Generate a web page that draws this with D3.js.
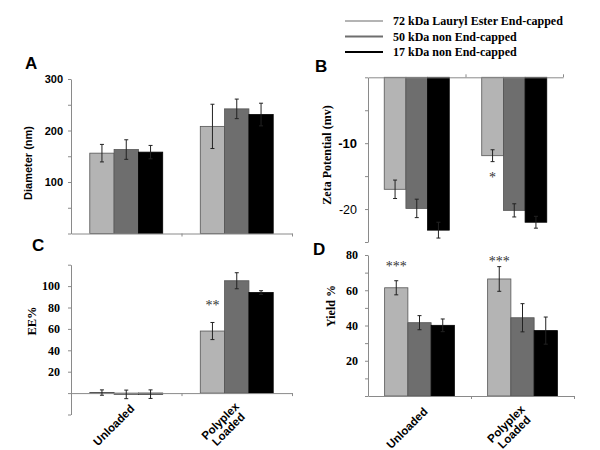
<!DOCTYPE html>
<html>
<head>
<meta charset="utf-8">
<script src="https://cdn.jsdelivr.net/npm/d3@7"></script>
<style>
  html, body { margin: 0; padding: 0; background: #fff; }
  svg { display: block; }
</style>
</head>
<body>
<svg id="chart" width="600" height="450"></svg>
<script>
// ---------- data ----------
const categories = ["Unloaded", "Polyplex Loaded"];
const categoryLines = [["Unloaded"], ["Polyplex", "Loaded"]];
const seriesNames = ["72 kDa Lauryl Ester End-capped", "50 kDa non End-capped", "17 kDa non End-capped"];
const seriesColors = ["#b4b4b4", "#6e6e6e", "#000000"];

// per series: [Unloaded, Polyplex Loaded]
const diameterMean = [[156, 208], [163, 242], [158, 231]];
const diameterErr  = [[17, 43], [19, 19], [13, 22]];
const zetaMean = [[-17.0, -11.9], [-19.9, -20.2], [-23.2, -22.0]];
const zetaErr  = [[1.4, 0.9], [1.4, 1.0], [1.2, 0.9]];
const eeMean = [[0.5, 58], [-1.2, 105], [-1.0, 94]];
const eeErr  = [[2.5, 8], [4, 7.5], [4, 1.7]];
const yieldMean = [[61.4, 66.4], [41.6, 44.4], [40.1, 37.1]];
const yieldErr  = [[4, 7], [4, 8], [3.6, 7.7]];

const diameterTicks = [0, 50, 100, 150, 200, 250, 300];
const diameterTickLabels = [100, 200, 300];
const zetaTicks = [0, -5, -10, -15, -20, -25];
const zetaTickLabels = [-10, -20];
const eeTicks = [-20, 0, 20, 40, 60, 80, 100, 120];
const eeTickLabels = [20, 40, 60, 80, 100];
const yieldTicks = [0, 10, 20, 30, 40, 50, 60, 70, 80];
const yieldTickLabels = [20, 40, 60, 80];

// significance marks
const sigText = ["*", "**", "***", "***"];
const sigPanel = ["B", "C", "D", "D"];
const sigCategory = [1, 1, 0, 1];
const sigSeries = [0, 0, 0, 0];
const sigAt = [-14.8, 84, 75, 77.5];

// ---------- drawing ----------
const SANS = "'Liberation Sans', Arial, sans-serif";
const SERIF = "'Liberation Serif', 'Times New Roman', serif";
const AXIS = "#8a8a8a";
const svg = d3.select("#chart");

const panels = {
  A: { mean: diameterMean, err: diameterErr, domain: [0, 300], yRange: [233.5, 79], xRange: [71, 292], frac: 0.66,
       ticks: diameterTicks, labels: diameterTickLabels, tickFont: SANS, tickSize: 11, tickWeight: "bold", pad: 5,
       title: "Diameter (nm)", titleFont: SANS, titleSize: 11, titlePos: [27.5, 163],
       letter: "A", letterPos: [25, 69], top: false, catLabels: false },
  B: { mean: zetaMean, err: zetaErr, domain: [-25, 0], yRange: [242, 77.3], xRange: [368, 563], frac: 0.667,
       ticks: zetaTicks, labels: zetaTickLabels, tickFont: SANS, tickSize: 13, tickWeight: "bold", pad: 8,
       title: "Zeta Potential (mv)", titleFont: SERIF, titleSize: 12, titlePos: [327, 155],
       letter: "B", letterPos: [315, 72], top: true, catLabels: false },
  C: { mean: eeMean, err: eeErr, domain: [-20, 120], yRange: [414.5, 264.7], xRange: [71, 292], frac: 0.66,
       ticks: eeTicks, labels: eeTickLabels, tickFont: SERIF, tickSize: 12, tickWeight: "bold", pad: 8,
       title: "EE%", titleFont: SERIF, titleSize: 12.5, titlePos: [31.5, 321],
       letter: "C", letterPos: [32, 251], top: false, catLabels: true },
  D: { mean: yieldMean, err: yieldErr, domain: [0, 80], yRange: [396, 255], xRange: [368, 574], frac: 0.677,
       ticks: yieldTicks, labels: yieldTickLabels, tickFont: SERIF, tickSize: 12, tickWeight: "bold", pad: 7,
       title: "Yield %", titleFont: SERIF, titleSize: 12, titlePos: [331, 306],
       letter: "D", letterPos: [313, 255], top: false, catLabels: true }
};

function drawPanel(key) {
  const p = panels[key];
  const g = svg.append("g");
  const y = d3.scaleLinear().domain(p.domain).range(p.yRange);
  const x0 = d3.scaleBand().domain(categories).range(p.xRange).paddingInner(0).paddingOuter(0);
  const gw = x0.bandwidth() * p.frac;
  const x1 = d3.scaleBand().domain(d3.range(seriesNames.length)).range([0, gw]);
  const zeroY = y(0);

  // bars
  seriesNames.forEach((s, si) => {
    categories.forEach((c, ci) => {
      const v = p.mean[si][ci];
      const bx = x0(c) + (x0.bandwidth() - gw) / 2 + x1(si);
      g.append("rect")
        .attr("x", bx).attr("width", x1.bandwidth())
        .attr("y", Math.min(y(v), zeroY)).attr("height", Math.abs(y(v) - zeroY))
        .attr("fill", seriesColors[si])
        .attr("stroke", si === 2 ? "#000" : "#555").attr("stroke-width", 0.8);
    });
  });

  // axes
  const yAxis = d3.axisLeft(y).tickValues(p.ticks).tickSize(3).tickSizeOuter(0).tickPadding(p.pad)
    .tickFormat(d => p.labels.includes(d) ? String(d) : "");
  const ya = g.append("g").attr("transform", `translate(${p.xRange[0]},0)`).call(yAxis);
  ya.selectAll("text").attr("font-family", p.tickFont).attr("font-size", p.tickSize)
    .attr("font-weight", p.tickWeight).attr("fill", "#000");
  if (key === "B") {
    ya.selectAll(".tick text").filter(d => d === -20).attr("font-weight", "normal").attr("font-size", 12.5);
  }

  const xl = d3.scaleLinear().domain([0, categories.length]).range(p.xRange);
  const xAxis = (p.top ? d3.axisTop(xl) : d3.axisBottom(xl))
    .tickValues(d3.range(1, categories.length + 1)).tickSize(3).tickSizeOuter(0).tickFormat("");
  g.append("g").attr("transform", `translate(0,${zeroY})`).call(xAxis);

  g.selectAll(".domain, .tick line").attr("stroke", AXIS).attr("stroke-width", 1);

  // error bars (drawn on top)
  seriesNames.forEach((s, si) => {
    categories.forEach((c, ci) => {
      const v = p.mean[si][ci], e = p.err[si][ci];
      const cx = x0(c) + (x0.bandwidth() - gw) / 2 + x1(si) + x1.bandwidth() / 2;
      const eb = g.append("g").attr("stroke", "#222").attr("stroke-width", 1);
      eb.append("line").attr("x1", cx).attr("x2", cx).attr("y1", y(v + e)).attr("y2", y(v - e));
      eb.append("line").attr("x1", cx - 2).attr("x2", cx + 2).attr("y1", y(v + e)).attr("y2", y(v + e));
      eb.append("line").attr("x1", cx - 2).attr("x2", cx + 2).attr("y1", y(v - e)).attr("y2", y(v - e));
    });
  });

  // significance marks
  sigText.forEach((t, i) => {
    if (sigPanel[i] !== key) return;
    const c = categories[sigCategory[i]];
    const cx = x0(c) + (x0.bandwidth() - gw) / 2 + x1(sigSeries[i]) + x1.bandwidth() / 2;
    g.append("text").attr("x", cx).attr("y", y(sigAt[i]) + 7)
      .attr("text-anchor", "middle").attr("font-family", SERIF).attr("font-size", 14)
      .attr("fill", "#333").text(t);
  });

  // category labels
  if (p.catLabels) {
    categories.forEach((c, ci) => {
      const cx = x0(c) + x0.bandwidth() / 2;
      const lines = categoryLines[ci];
      const t = g.append("text")
        .attr("transform", `translate(${cx - 12.5},${zeroY + 32}) rotate(-45)`)
        .attr("text-anchor", "middle").attr("dominant-baseline", "central")
        .attr("font-family", SANS).attr("font-size", 11.5)
        .attr("font-weight", "bold").attr("fill", "#000");
      lines.forEach((ln, li) => {
        t.append("tspan").attr("x", 0).attr("y", (li - (lines.length - 1) / 2) * 11.5)
          .attr("dominant-baseline", "central").text(ln);
      });
    });
  }

  // axis title
  g.append("text")
    .attr("transform", `translate(${p.titlePos[0]},${p.titlePos[1]}) rotate(-90)`)
    .attr("text-anchor", "middle").attr("dominant-baseline", "central")
    .attr("font-family", p.titleFont).attr("font-size", p.titleSize).attr("font-weight", "bold")
    .attr("fill", "#000").text(p.title);

  // panel letter
  g.append("text").attr("x", p.letterPos[0]).attr("y", p.letterPos[1])
    .attr("font-family", SANS).attr("font-size", 17).attr("font-weight", "bold")
    .attr("fill", "#000").text(p.letter);
}

["A", "B", "C", "D"].forEach(drawPanel);

// legend
const legendY = d3.scalePoint().domain(seriesNames).range([21, 52]);
const lg = svg.append("g");
seriesNames.forEach((s, i) => {
  lg.append("line").attr("x1", 345).attr("x2", 383).attr("y1", legendY(s)).attr("y2", legendY(s))
    .attr("stroke", seriesColors[i]).attr("stroke-width", 2);
  lg.append("text").attr("x", 393).attr("y", legendY(s) + 4)
    .attr("font-family", SERIF).attr("font-size", 12).attr("font-weight", "bold")
    .attr("fill", "#000").text(s);
});
</script>
</body>
</html>
